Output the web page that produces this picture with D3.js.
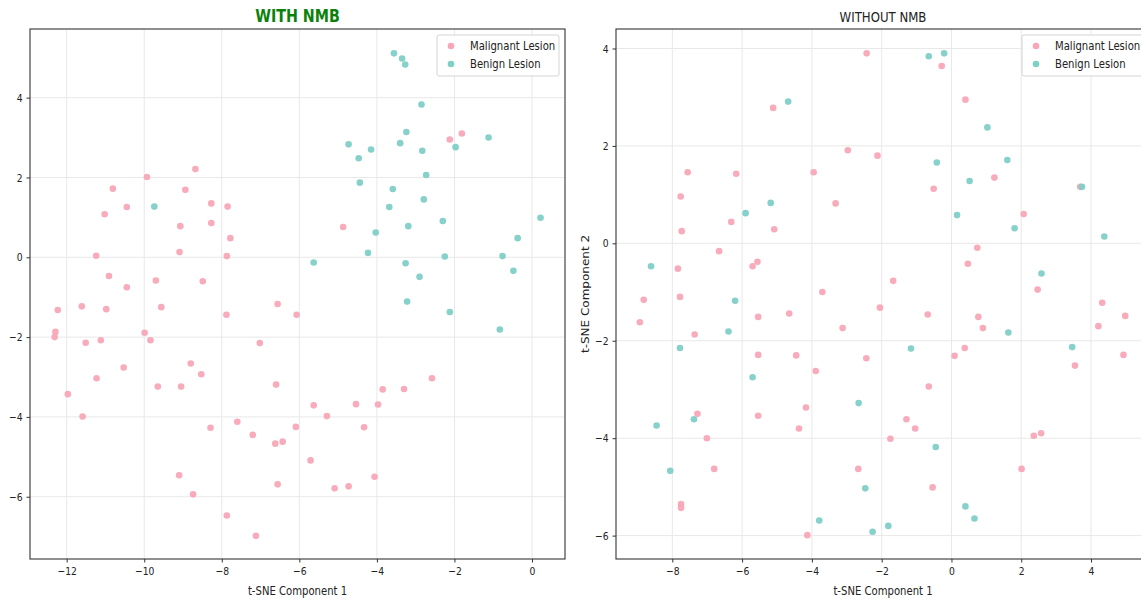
<!DOCTYPE html>
<html>
<head>
<meta charset="utf-8">
<script src="https://cdn.jsdelivr.net/npm/d3@7"></script>
<style>
  body { margin: 0; background: #fff; }
  svg { display: block; font-family: "DejaVu Sans", sans-serif; }
</style>
</head>
<body>
<div id="chart"></div>
<script>
// t-SNE points, [component 1, component 2]
const withNmbMalignant = [
  [-9.93, 2.01], [-8.68, 2.21], [-10.81, 1.72], [-8.94, 1.69], [-10.45, 1.26], [-11.02, 1.08],
  [-8.27, 1.35], [-7.85, 1.27], [-8.27, 0.86], [-9.07, 0.78], [-7.78, 0.48], [-9.09, 0.13],
  [-7.87, 0.03], [-11.24, 0.04], [-10.91, -0.47], [-10.45, -0.75], [-9.70, -0.58], [-8.49, -0.60],
  [-12.23, -1.32], [-11.61, -1.23], [-10.98, -1.30], [-9.56, -1.25], [-7.88, -1.44], [-6.56, -1.17],
  [-6.07, -1.44], [-12.29, -1.87], [-12.31, -2.00], [-11.51, -2.14], [-11.12, -2.08], [-9.99, -1.89],
  [-9.84, -2.08], [-7.02, -2.15], [-8.80, -2.66], [-8.53, -2.93], [-10.53, -2.76], [-11.23, -3.03],
  [-9.65, -3.24], [-9.05, -3.24], [-6.60, -3.19], [-11.97, -3.43], [-11.59, -3.99], [-8.29, -4.27],
  [-7.60, -4.12], [-7.20, -4.45], [-6.62, -4.67], [-6.43, -4.62], [-6.09, -4.25], [-9.10, -5.46],
  [-8.74, -5.94], [-6.56, -5.69], [-7.87, -6.47], [-7.12, -6.98], [-2.58, -3.03], [-3.85, -3.31],
  [-3.30, -3.30], [-5.63, -3.71], [-4.54, -3.68], [-3.97, -3.69], [-5.29, -3.98], [-4.33, -4.26],
  [-5.71, -5.09], [-5.09, -5.79], [-4.73, -5.74], [-4.06, -5.50], [-2.12, 2.95], [-1.81, 3.10],
  [-4.87, 0.76]
];
const withNmbBenign = [
  [-9.74, 1.27], [-3.56, 5.11], [-3.35, 4.98], [-3.27, 4.83], [-2.85, 3.83], [-3.24, 3.14],
  [-1.12, 3.00], [-4.73, 2.83], [-4.15, 2.70], [-3.40, 2.86], [-2.83, 2.67], [-1.97, 2.76],
  [-4.47, 2.48], [-2.73, 2.06], [-4.44, 1.87], [-3.59, 1.71], [-2.79, 1.45], [-3.68, 1.26],
  [-2.30, 0.91], [0.22, 0.99], [-4.03, 0.62], [-3.19, 0.78], [-0.37, 0.48], [-4.23, 0.11],
  [-2.25, 0.02], [-0.76, 0.03], [-5.63, -0.13], [-3.26, -0.15], [-0.48, -0.34], [-2.90, -0.49],
  [-3.22, -1.11], [-2.12, -1.37], [-0.83, -1.81]
];
const withoutNmbMalignant = [
  [-2.43, 3.90], [-5.11, 2.78], [-2.97, 1.91], [-7.56, 1.46], [-6.17, 1.43], [-3.95, 1.46],
  [-7.76, 0.96], [-3.32, 0.82], [-6.31, 0.44], [-7.73, 0.25], [-5.08, 0.29], [-6.66, -0.16],
  [-7.84, -0.52], [-5.70, -0.47], [-5.56, -0.38], [-3.70, -1.00], [-8.82, -1.16], [-7.78, -1.10],
  [-0.28, 3.64], [0.40, 2.95], [-2.12, 1.80], [1.23, 1.35], [-0.51, 1.12], [3.69, 1.16],
  [2.07, 0.60], [0.74, -0.09], [0.47, -0.42], [-1.67, -0.77], [2.47, -0.95], [-8.93, -1.62],
  [-7.36, -1.87], [-5.54, -1.51], [-4.65, -1.44], [-3.12, -1.74], [-5.54, -2.29], [-4.45, -2.30],
  [-2.44, -2.36], [-3.89, -2.62], [-4.17, -3.37], [-7.28, -3.50], [-5.54, -3.54], [-4.37, -3.80],
  [-7.01, -4.00], [-6.80, -4.63], [-2.67, -4.63], [-7.75, -5.35], [-7.75, -5.43], [-4.13, -5.99],
  [4.32, -1.22], [-2.05, -1.32], [-0.68, -1.46], [0.77, -1.51], [4.98, -1.49], [0.90, -1.74],
  [4.21, -1.70], [0.38, -2.15], [0.09, -2.31], [4.93, -2.29], [3.54, -2.51], [-0.65, -2.94],
  [-1.29, -3.61], [-1.04, -3.80], [-1.75, -4.01], [2.36, -3.95], [2.57, -3.90], [2.01, -4.63],
  [-0.54, -5.01]
];
const withoutNmbBenign = [
  [-4.68, 2.91], [-5.18, 0.83], [-5.90, 0.62], [-8.61, -0.47], [-6.20, -1.18], [-0.65, 3.84],
  [-0.21, 3.90], [1.03, 2.38], [-0.42, 1.66], [1.60, 1.71], [0.52, 1.28], [3.74, 1.16],
  [0.16, 0.58], [1.81, 0.31], [4.38, 0.14], [2.58, -0.62], [-6.39, -1.81], [-7.78, -2.15],
  [-5.70, -2.75], [-2.66, -3.28], [-7.38, -3.61], [-8.45, -3.74], [-8.06, -4.67], [-2.47, -5.03],
  [-3.79, -5.69], [1.63, -1.83], [-1.16, -2.16], [3.46, -2.13], [-0.45, -4.18], [0.40, -5.40],
  [0.66, -5.65], [-1.81, -5.80], [-2.26, -5.92]
];

const seriesNames = ["Malignant Lesion", "Benign Lesion"];
const seriesColors = ["#f8a7b6", "#7fcfc6"];

const withXTicks = [-12, -10, -8, -6, -4, -2, 0];
const withYTicks = [-6, -4, -2, 0, 2, 4];
const withoutXTicks = [-8, -6, -4, -2, 0, 2, 4];
const withoutYTicks = [-6, -4, -2, 0, 2, 4];

const width = 1141;
const height = 598;
const sq = 0.84; // picture is squeezed sideways, text too

const svg = d3.select("#chart")
  .append("svg")
  .attr("width", width)
  .attr("height", height)
  .style("overflow", "hidden");

function txt(g, x, y, s, size, anchor) {
  return g.append("text")
    .attr("transform", `translate(${x},${y}) scale(${sq},1)`)
    .attr("text-anchor", anchor || "middle")
    .style("font-size", size + "px")
    .style("fill", "#222")
    .text(s);
}

function panel(opts) {
  const g = svg.append("g").attr("transform", `translate(${opts.left},${opts.top})`);
  const w = opts.w, h = opts.h;

  const x = d3.scaleLinear().domain(opts.xDomain).range([0, w]);
  const y = d3.scaleLinear().domain(opts.yDomain).range([h, 0]);

  // grid
  g.append("g").selectAll("line").data(opts.xTicks).join("line")
    .attr("x1", d => x(d)).attr("x2", d => x(d))
    .attr("y1", 0).attr("y2", h)
    .attr("stroke", "#e8e8e8").attr("stroke-width", 1);
  g.append("g").selectAll("line").data(opts.yTicks).join("line")
    .attr("x1", 0).attr("x2", w)
    .attr("y1", d => y(d)).attr("y2", d => y(d))
    .attr("stroke", "#e8e8e8").attr("stroke-width", 1);

  // points
  [opts.malignant, opts.benign].forEach((pts, i) => {
    g.append("g").selectAll("circle").data(pts).join("circle")
      .attr("cx", d => x(d[0]))
      .attr("cy", d => y(d[1]))
      .attr("r", 3.3)
      .attr("fill", seriesColors[i])
      .attr("fill-opacity", 0.95);
  });

  // axes
  const fmt = d => d < 0 ? "\u2212" + Math.abs(d) : d;
  const xa = g.append("g").attr("transform", `translate(0,${h})`)
    .call(d3.axisBottom(x).tickValues(opts.xTicks).tickFormat(fmt).tickSize(3.5).tickPadding(4));
  const ya = g.append("g")
    .call(d3.axisLeft(y).tickValues(opts.yTicks).tickFormat(fmt).tickSize(3.5));
  [xa, ya].forEach(a => {
    a.select(".domain").remove();
    a.selectAll("line").attr("stroke", "#333");
    a.selectAll("text")
      .style("font-size", "11px")
      .style("font-family", "DejaVu Sans, sans-serif")
      .attr("fill", "#222");
  });
  xa.selectAll("text").attr("transform", `scale(${sq},1)`).attr("y", 8);
  ya.selectAll("text").attr("transform", `scale(${sq},1)`).attr("x", -7.5 / sq);

  // frame
  g.append("rect")
    .attr("width", w).attr("height", h)
    .attr("fill", "none").attr("stroke", "#333").attr("stroke-width", 1.1);

  // legend
  const lg = g.append("g").attr("transform", `translate(${w - 128},6)`);
  lg.append("rect")
    .attr("width", 122).attr("height", 41).attr("rx", 2)
    .attr("fill", "#fff").attr("fill-opacity", 0.85)
    .attr("stroke", "#d5d5d5");
  seriesNames.forEach((n, i) => {
    lg.append("circle").attr("cx", 14).attr("cy", 11 + i * 18).attr("r", 3.3)
      .attr("fill", seriesColors[i]);
    txt(lg, 33, 15 + i * 18, n, 12, "start");
  });

  // labels
  txt(g, w / 2, h + 36, "t-SNE Component 1", 12);
  const t = txt(g, w / 2, -7, opts.title, opts.titleSize);
  t.style("fill", opts.titleColor).style("font-weight", opts.titleWeight);
  if (opts.yLabel) {
    g.append("text")
      .attr("transform", `translate(-27,${h / 2}) scale(${sq},1) rotate(-90)`)
      .attr("text-anchor", "middle")
      .style("font-size", "12px")
      .style("fill", "#222")
      .text(opts.yLabel);
  }
}

panel({
  left: 30, top: 29, w: 535, h: 530,
  xDomain: [-12.946, 0.851], yDomain: [-7.56, 5.72],
  xTicks: withXTicks, yTicks: withYTicks,
  malignant: withNmbMalignant, benign: withNmbBenign,
  title: "WITH NMB", titleSize: 17, titleColor: "#0a820a", titleWeight: "bold"
});

panel({
  left: 616, top: 29, w: 534, h: 530,
  xDomain: [-9.614, 5.69], yDomain: [-6.48, 4.40],
  xTicks: withoutXTicks, yTicks: withoutYTicks,
  malignant: withoutNmbMalignant, benign: withoutNmbBenign,
  title: "WITHOUT NMB", titleSize: 14, titleColor: "#222", titleWeight: "normal",
  yLabel: "t-SNE Component 2"
});
</script>
</body>
</html>
